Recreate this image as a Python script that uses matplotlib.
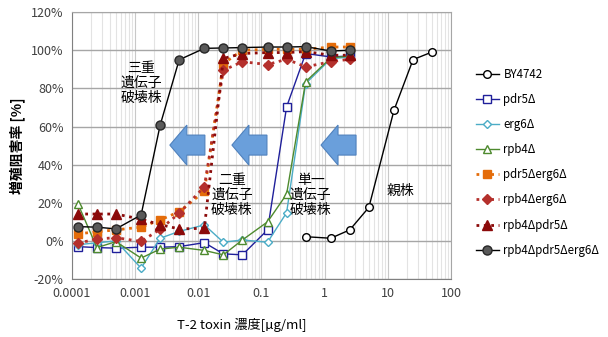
import numpy as np
import matplotlib
matplotlib.use("Agg")
import matplotlib.pyplot as plt
from matplotlib.patches import Polygon

plt.rcParams['font.family'] = ['Noto Sans CJK JP', 'DejaVu Sans']

# 濃度 (µg/ml)
conc = [0.000125, 0.00025, 0.0005, 0.00125, 0.0025, 0.005, 0.0125,
        0.025, 0.05, 0.125, 0.25, 0.5, 1.25, 2.5]
conc_by = [0.5, 1.25, 2.5, 5, 12.5, 25, 50]

by4742 = [2.2, 1.4, 5.8, 17.6, 68.6, 95.1, 99.1]
pdr5 = [-3, -3.5, -3.8, -3.3, -3.3, -3, -0.9, -6.8, -7.3, 5.8, 70.3, 98.3, 96.5, 97]
erg6 = [-2, -1, 0, -14.3, 1.4, 5, 8.4, -0.7, 0.5, -0.7, 14.8, 82.5, 95.5, 96.5]
rpb4 = [19.5, -3.5, -0.4, -9, -4.3, -3.3, -5, -7.3, 0.5, 10, 24.5, 83.5, 96, 97]
pdr5_erg6 = [3.7, 4.8, 5.8, 7.2, 11, 15.3, 26, 93, 100, 100.5, 100.5, 100.5, 101.7, 101.7]
rpb4_erg6 = [-1.2, 1, 1.7, -0.3, 6.1, 14.5, 28.4, 89.5, 94, 92.5, 95.3, 91.3, 94, 95.3]
rpb4_pdr5 = [14.1, 14.1, 14.1, 11.4, 8.5, 6.3, 6.6, 95.7, 98.3, 98.8, 98.8, 99.3, 97.4, 97.4]
triple = [7.5, 7.2, 6.3, 13.6, 60.7, 95, 101, 101.2, 101.4, 101.7, 101.7, 101.9, 99.6, 100]

fig = plt.figure(figsize=(6.08, 3.37), dpi=100)
ax = fig.add_axes([0.118, 0.172, 0.624, 0.792])

ax.plot(conc_by, by4742, '-o', color='black', lw=1, ms=5.5, mfc='white', mec='black', label='BY4742')
ax.plot(conc, pdr5, '-s', color='#1F1F9A', lw=1, ms=5.5, mfc='white', label='pdr5Δ')
ax.plot(conc, erg6, '-D', color='#4BACC6', lw=1, ms=4.5, mfc='white', label='erg6Δ')
ax.plot(conc, rpb4, '-^', color='#4E8A2E', lw=1, ms=6, mfc='white', label='rpb4Δ')
ax.plot(conc, pdr5_erg6, ':s', color='#E46C0A', lw=2, ms=5.5, label='pdr5Δerg6Δ')
ax.plot(conc, rpb4_erg6, ':D', color='#B4302C', lw=2, ms=5, label='rpb4Δerg6Δ')
ax.plot(conc, rpb4_pdr5, ':^', color='#8B0A0A', lw=2, ms=6.5, label='rpb4Δpdr5Δ')
ax.plot(conc, triple, '-o', color='black', lw=1, ms=6.5, mfc='#595959', mec='#262626',
        label='rpb4Δpdr5Δerg6Δ')

ax.set_xscale('log')
ax.set_xlim(0.0001, 100)
ax.set_ylim(-20, 120)
ax.set_yticks(np.arange(-20, 121, 20))
ax.set_yticklabels(['{}%'.format(v) for v in range(-20, 121, 20)])
ax.set_xticks([0.0001, 0.001, 0.01, 0.1, 1, 10, 100])
ax.set_xticklabels(['0.0001', '0.001', '0.01', '0.1', '1', '10', '100'])
ax.tick_params(labelsize=9, colors='#404040', length=0, pad=6)
ax.tick_params(axis='x', which='minor', length=0)
ax.grid(True, which='minor', axis='x', color='#E3E3E3', lw=0.8)
ax.grid(True, which='major', axis='x', color='#C8C8C8', lw=0.8)
ax.grid(True, which='major', axis='y', color='#A6A6A6', lw=1)
ax.set_axisbelow(True)
for s in ax.spines.values():
    s.set_color('#A6A6A6')
ax.spines['left'].set_color('#808080')
ax.spines['bottom'].set_color('#808080')

ax.set_ylabel('増殖阻害率 [%]', fontsize=10, fontweight='bold', labelpad=4)
fig.text(0.397, 0.035, 'T-2 toxin 濃度[µg/ml]', fontsize=9.5, ha='center', va='center')

# 注記
ax.text(0.00125, 83, '三重\n遺伝子\n破壊株', fontsize=10, ha='center', va='center', linespacing=1.1)
ax.text(0.034, 24, '二重\n遺伝子\n破壊株', fontsize=10, ha='center', va='center', linespacing=1.1)
ax.text(0.6, 24, '単一\n遺伝子\n破壊株', fontsize=10, ha='center', va='center', linespacing=1.1)
ax.text(15.5, 26, '親株', fontsize=10, ha='center', va='center')

# 左向きの矢印 (pixel -> axes fraction)
def px2ax(px, py):
    return ((px - 72) / 379.0, (279 - py) / 267.0)

for x0 in [170, 232, 321]:
    pts = [(x0, 145), (x0 + 17, 125), (x0 + 17, 135), (x0 + 35, 135),
           (x0 + 35, 155), (x0 + 17, 155), (x0 + 17, 165)]
    ax.add_patch(Polygon([px2ax(*p) for p in pts], closed=True, transform=ax.transAxes,
                         facecolor='#6A9FDB', edgecolor='#4F81BD', lw=0.8, zorder=5))

leg = ax.legend(loc='upper left', bbox_to_anchor=(0.775, 0.812), bbox_transform=fig.transFigure,
                frameon=False, fontsize=8.3, handlelength=2.0, labelspacing=1.05,
                handletextpad=0.4, borderaxespad=0)

fig.savefig('out.png', dpi=100)
